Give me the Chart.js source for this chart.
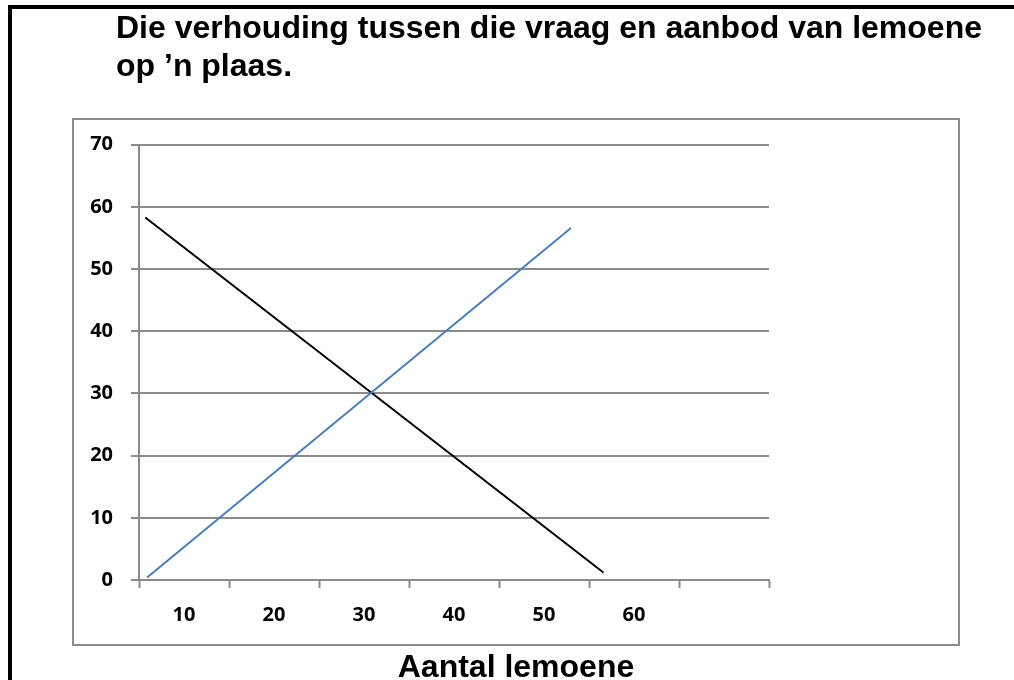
<!DOCTYPE html>
<html>
<head>
<meta charset="utf-8">
<script src="https://cdn.jsdelivr.net/npm/chart.js@4.4.1/dist/chart.umd.min.js"></script>
<style>
  html, body { margin: 0; padding: 0; background: #ffffff; }
  #wrap { position: relative; width: 1014px; height: 680px; }
</style>
</head>
<body>
<div id="wrap"><canvas id="c" width="1014" height="680"></canvas></div>
<script>
// ---- data ----
const titleLines = ["Die verhouding tussen die vraag en aanbod van lemoene", "op \u2019n plaas."];
const xAxisTitle = "Aantal lemoene";
const xTickValues = [5, 10, 15, 20, 25, 30, 35, 40, 45, 50, 55, 60, 65, 70, 75];
const xLabelValues = [10, 20, 30, 40, 50, 60];
const xTickMarkValues = [5, 15, 25, 35, 45, 55, 65, 75];
const yTickValues = [0, 10, 20, 30, 40, 50, 60, 70];

// supply (blue) line
const supplyX = [5.9, 53.0];
const supplyY = [0.4, 56.6];
// demand (black) line
const demandX = [5.7, 56.6];
const demandY = [58.3, 1.2];

const toPoints = (xs, ys) => xs.map((x, i) => ({ x: x, y: ys[i] }));

const GRID = '#8a8a8a';
const labelFont = { family: '"Open Sans", Lato, sans-serif', size: 20, weight: 'bold' };

const decor = {
  id: 'decor',
  beforeDraw(chart) {
    const ctx = chart.ctx;
    ctx.save();
    ctx.fillStyle = '#ffffff';
    ctx.fillRect(0, 0, chart.width, chart.height);
    // chart area box
    ctx.strokeStyle = GRID;
    ctx.lineWidth = 2;
    ctx.strokeRect(73, 119, 886, 526);
    ctx.restore();
  },
  afterDraw(chart) {
    const ctx = chart.ctx;
    ctx.save();
    // outer frame
    ctx.fillStyle = '#000000';
    ctx.fillRect(8, 5, 4, 675);
    ctx.fillRect(8, 5, 1006, 4);
    // title
    ctx.font = 'bold 32px "Liberation Sans", Arial, sans-serif';
    ctx.textAlign = 'left';
    ctx.textBaseline = 'alphabetic';
    ctx.fillText(titleLines[0], 116, 38);
    ctx.fillText(titleLines[1], 116, 76);
    // x axis title
    ctx.textAlign = 'center';
    ctx.fillText(xAxisTitle, 516, 677);
    ctx.restore();
  }
};

new Chart(document.getElementById('c'), {
  type: 'line',
  data: {
    datasets: [
      {
        label: 'Aanbod',
        data: toPoints(supplyX, supplyY),
        borderColor: '#4a7ebb',
        borderWidth: 2,
        pointRadius: 0,
        tension: 0,
        fill: false
      },
      {
        label: 'Vraag',
        data: toPoints(demandX, demandY),
        borderColor: '#000000',
        borderWidth: 2,
        pointRadius: 0,
        tension: 0,
        fill: false
      }
    ]
  },
  options: {
    responsive: false,
    animation: false,
    devicePixelRatio: 1,
    layout: { padding: { left: 0, right: 245, top: 144.7, bottom: 0 } },
    plugins: {
      legend: { display: false },
      title: { display: false },
      tooltip: { enabled: false }
    },
    scales: {
      x: {
        type: 'linear',
        min: 5,
        max: 75,
        afterBuildTicks(scale) {
          scale.ticks = xTickValues.map(v => ({ value: v }));
        },
        afterFit(scale) { scale.height = 100; },
        ticks: {
          autoSkip: false,
          maxRotation: 0,
          minRotation: 0,
          padding: 15,
          color: '#000000',
          font: labelFont,
          callback: (v) => xLabelValues.includes(v) ? String(v) : ''
        },
        grid: {
          drawOnChartArea: false,
          drawTicks: true,
          tickLength: 8,
          tickWidth: 2,
          tickColor: (ctx) => (ctx.tick && xTickMarkValues.includes(ctx.tick.value)) ? GRID : 'rgba(0,0,0,0)'
        },
        border: { display: true, color: GRID, width: 2 }
      },
      y: {
        type: 'linear',
        min: 0,
        max: 70,
        afterBuildTicks(scale) {
          scale.ticks = yTickValues.map(v => ({ value: v }));
        },
        afterFit(scale) { scale.width = 139; },
        ticks: {
          padding: 18,
          color: '#000000',
          font: labelFont
        },
        grid: {
          color: GRID,
          lineWidth: 2,
          drawTicks: true,
          tickLength: 8,
          tickColor: GRID,
          tickWidth: 2
        },
        border: { display: true, color: GRID, width: 2 }
      }
    }
  },
  plugins: [decor]
});
</script>
</body>
</html>
